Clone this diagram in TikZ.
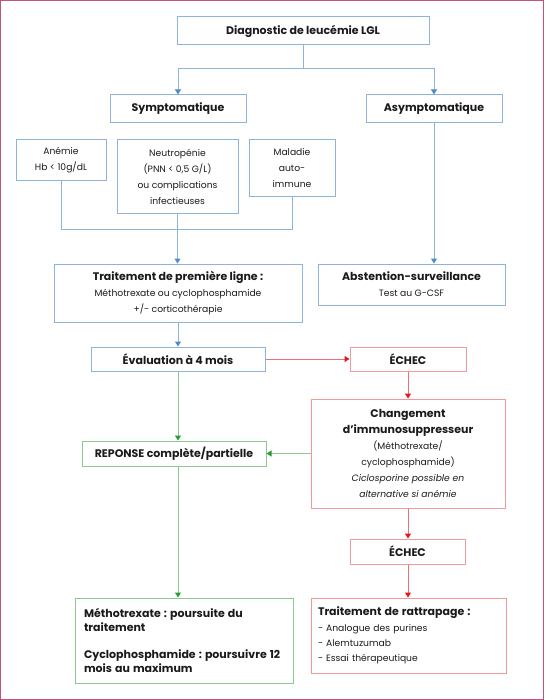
\documentclass[tikz,border=0pt]{standalone}
\usepackage{fontspec}
\setmainfont{Poppins}
\usetikzlibrary{arrows.meta}
\frenchspacing
\definecolor{frame}{HTML}{C5507A}
\definecolor{bl}{HTML}{8DB4DC}
\definecolor{blt}{HTML}{4F8BC9}
\definecolor{rd}{HTML}{F29A9A}
\definecolor{rdl}{HTML}{EF6F78}
\definecolor{rdt}{HTML}{E8141E}
\definecolor{gr}{HTML}{8ACB8A}
\definecolor{grt}{HTML}{2B9A3A}
\definecolor{txt}{HTML}{1A1A1A}
\newcommand\bt[1]{{\fontsize{11}{16}\selectfont\bfseries #1}}
\tikzset{
  every node/.style={font=\fontsize{9.2}{16}\selectfont, text=txt, inner sep=2pt},
  bbox/.style={draw=bl, line width=1pt, align=center},
  rbox/.style={draw=rd, line width=1pt, align=center},
  gbox/.style={draw=gr, line width=1pt, align=center},
  bline/.style={draw=bl, line width=1pt},
  barrow/.style={draw=bl, line width=1pt, -{Triangle[width=6pt,length=5pt,color=blt]}},
  rarrow/.style={draw=rdl, line width=1pt, -{Triangle[width=6pt,length=5pt,color=rdt]}},
  garrow/.style={draw=gr, line width=1pt, -{Triangle[width=6pt,length=5pt,color=grt]}},
}
\begin{document}
\begin{tikzpicture}[x=1pt,y=-1pt]
\useasboundingbox (0,0) rectangle (544,700);
\draw[frame, line width=1.4pt] (0.7,0.7) rectangle (543.3,699.3);

\node[bbox, minimum width=252pt, minimum height=28pt] (diag) at (303,31) {\bt{Diagnostic de leucémie LGL}};
\node[bbox, minimum width=136pt, minimum height=28pt] (sympt) at (178,109) {\bt{Symptomatique}};
\node[bbox, minimum width=136pt, minimum height=28pt] (asympt) at (434,109) {\bt{Asymptomatique}};
\node[bbox, minimum width=90pt, minimum height=41pt] (anemie) at (61,160.5) {Anémie\\Hb < 10g/dL};
\node[bbox, minimum width=121pt, minimum height=74pt] (neutro) at (177.5,177) {Neutropénie\\(PNN < 0,5 G/L)\\ou complications\\infectieuses};
\node[bbox, minimum width=86pt, minimum height=57pt] (maladie) at (292,168.5) {Maladie\\auto-\\immune};
\node[bbox, minimum width=248pt, minimum height=58pt] (trait) at (178,293) {\bt{Traitement de première ligne :}\\Méthotrexate ou cyclophosphamide\\+/- corticothérapie};
\node[bbox, minimum width=187pt, minimum height=41pt] (abst) at (411.5,284.5) {\bt{Abstention-surveillance}\\Test au G-CSF};
\node[bbox, minimum width=174pt, minimum height=24pt] (eval) at (178,359) {\bt{Évaluation à 4 mois}};
\node[rbox, minimum width=116pt, minimum height=24pt] (echec1) at (408,359) {\bt{ÉCHEC}};
\node[rbox, minimum width=194pt, minimum height=109pt] (chang) at (408,453.5) {\bt{Changement}\\\bt{d’immunosuppresseur}\\(Méthotrexate/\\cyclophosphamide)\\\textit{Ciclosporine possible en}\\\textit{alternative si anémie}};
\node[gbox, minimum width=184pt, minimum height=25pt] (rep) at (174,453.5) {\bt{REPONSE complète/partielle}};
\node[rbox, minimum width=115pt, minimum height=25pt] (echec2) at (407.5,551.5) {\bt{ÉCHEC}};
\node[gbox, align=left, text width=200pt, inner xsep=9pt, minimum height=85pt, font=\fontsize{9.2}{14}\selectfont] (meth) at (184,640.5) {\bt{Méthotrexate : poursuite du}\\\bt{traitement}\\[13pt]\bt{Cyclophosphamide : poursuivre 12}\\\bt{mois au maximum}};
\node[rbox, align=left, text width=181pt, inner xsep=7pt, minimum height=75pt, font=\fontsize{9.2}{15.3}\selectfont] (ratt) at (408.5,635.5) {\bt{Traitement de rattrapage :}\\- Analogue des purines\\- Alemtuzumab\\- Essai thérapeutique};

\coordinate (j) at (303,69);
\coordinate (bar) at (0,230);
\draw[bline] (diag.south) -- (j);
\draw[barrow] (j) -| (sympt.north);
\draw[barrow] (j) -| (asympt.north);
\draw[bline] (anemie.south) |- (maladie.south |- bar) -- (maladie.south);
\draw[barrow] (neutro.south) -- (neutro.south |- trait.north);
\draw[barrow] (asympt.south) -- (asympt.south |- abst.north);
\draw[barrow] (trait.south) -- (eval.north);
\draw[rarrow] (eval.east) -- (echec1.west);
\draw[rarrow] (echec1.south) -- (chang.north);
\draw[garrow] (eval.south) -- (eval.south |- rep.north);
\draw[garrow] (chang.west |- rep.east) -- (rep.east);
\draw[rarrow] (chang.south) -- (echec2.north -| chang.south);
\draw[garrow] (eval.south |- rep.south) -- (eval.south |- meth.north);
\draw[rarrow] (echec2.south -| chang.south) -- (ratt.north -| chang.south);
\end{tikzpicture}
\end{document}
